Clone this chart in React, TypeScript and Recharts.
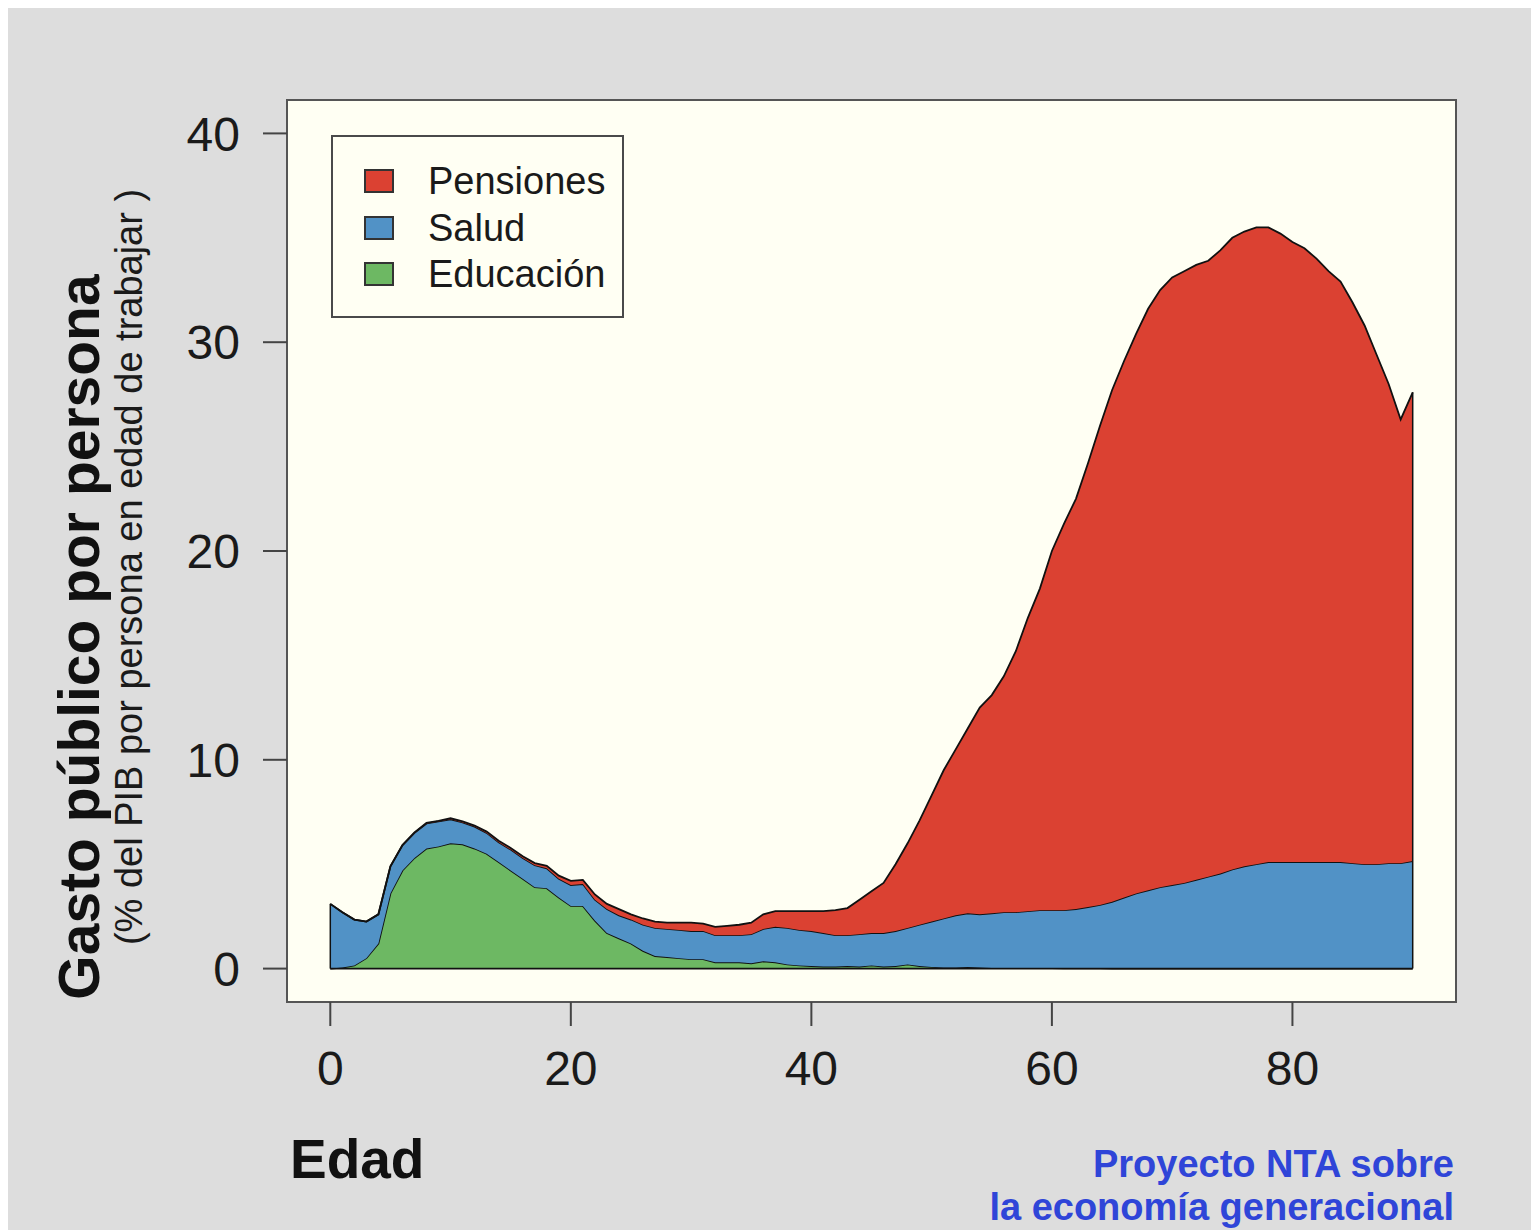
import React from "react";
import {
  AreaChart,
  Area,
  XAxis,
  YAxis,
  CartesianGrid,
  ReferenceArea,
  ReferenceLine,
  Legend,
} from "recharts";

// ---------- data ----------
const ages = [
  0, 1, 2, 3, 4, 5, 6, 7, 8, 9, 10, 11, 12, 13, 14, 15, 16, 17, 18, 19, 20,
  21, 22, 23, 24, 25, 26, 27, 28, 29, 30, 31, 32, 33, 34, 35, 36, 37, 38, 39,
  40, 41, 42, 43, 44, 45, 46, 47, 48, 49, 50, 51, 52, 53, 54, 55, 56, 57, 58,
  59, 60, 61, 62, 63, 64, 65, 66, 67, 68, 69, 70, 71, 72, 73, 74, 75, 76, 77,
  78, 79, 80, 81, 82, 83, 84, 85, 86, 87, 88, 89, 90,
];

const educacion = [
  0, 0.05, 0.15, 0.5, 1.2, 3.6, 4.7, 5.3, 5.75, 5.85, 6.0, 5.95, 5.75, 5.5,
  5.1, 4.7, 4.3, 3.9, 3.85, 3.4, 3.0, 3.0, 2.3, 1.7, 1.45, 1.2, 0.85, 0.6,
  0.55, 0.5, 0.45, 0.45, 0.3, 0.3, 0.3, 0.25, 0.35, 0.3, 0.2, 0.15, 0.12, 0.1,
  0.1, 0.12, 0.1, 0.15, 0.1, 0.12, 0.2, 0.12, 0.08, 0.05, 0.05, 0.08, 0.05,
  0.03, 0.02, 0.02, 0.02, 0.02, 0.02, 0.01, 0.01, 0.01, 0.01, 0, 0, 0, 0, 0,
  0, 0, 0, 0, 0, 0, 0, 0, 0, 0, 0, 0, 0, 0, 0, 0, 0, 0, 0, 0, 0,
];

const salud = [
  3.1, 2.65, 2.2, 1.75, 1.4, 1.3, 1.2, 1.2, 1.2, 1.2, 1.15, 1.05, 1.05, 1.0,
  0.95, 1.0, 1.0, 1.05, 0.95, 0.9, 1.0, 1.05, 1.0, 1.15, 1.1, 1.15, 1.25, 1.35,
  1.35, 1.35, 1.35, 1.35, 1.3, 1.3, 1.3, 1.4, 1.55, 1.7, 1.75, 1.7, 1.68, 1.6,
  1.5, 1.48, 1.55, 1.55, 1.6, 1.68, 1.75, 1.98, 2.17, 2.35, 2.5, 2.57, 2.55,
  2.62, 2.68, 2.68, 2.73, 2.78, 2.78, 2.79, 2.84, 2.94, 3.04, 3.2, 3.4, 3.6,
  3.75, 3.9, 4.0, 4.1, 4.25, 4.4, 4.55, 4.75, 4.9, 5.0, 5.1, 5.1, 5.1, 5.1,
  5.1, 5.1, 5.1, 5.05, 5.0, 5.0, 5.05, 5.05, 5.15,
];

const pensiones = [
  0, 0, 0, 0, 0, 0, 0.02, 0.02, 0.03, 0.03, 0.05, 0.05, 0.05, 0.06, 0.07,
  0.08, 0.08, 0.1, 0.12, 0.15, 0.2, 0.2, 0.25, 0.25, 0.3, 0.25, 0.3, 0.3, 0.3,
  0.35, 0.4, 0.35, 0.4, 0.45, 0.5, 0.55, 0.7, 0.75, 0.8, 0.9, 0.95, 1.05, 1.2,
  1.3, 1.65, 2.0, 2.4, 3.2, 4.05, 5.0, 6.05, 7.1, 7.95, 8.85, 9.9, 10.45, 11.3,
  12.5, 14.05, 15.4, 17.2, 18.5, 19.65, 21.25, 22.95, 24.5, 25.7, 26.8, 27.85,
  28.6, 29.1, 29.3, 29.45, 29.5, 29.85, 30.25, 30.4, 30.5, 30.4, 30.1, 29.7,
  29.4, 28.9, 28.3, 27.8, 26.85, 25.8, 24.4, 22.95, 21.25, 22.45,
];

const xTicks = [0, 20, 40, 60, 80];
const yTicks = [0, 10, 20, 30, 40];
const xDomain = [-3.6, 93.6];
const yDomain = [-1.6, 41.6];

const seriesInfo = [
  { key: "pensiones", name: "Pensiones", color: "#db4132" },
  { key: "salud", name: "Salud", color: "#5192c6" },
  { key: "educacion", name: "Educación", color: "#6db863" },
];

const data = ages.map((age, i) => ({
  age,
  educacion: educacion[i],
  salud: salud[i],
  pensiones: pensiones[i],
}));

const FONT = '"Liberation Sans", Arial, Helvetica, sans-serif';
const colorOf = (k: string) => seriesInfo.find((s) => s.key === k)!.color;

const firstIdx = 0;
const lastIdx = ages.length - 1;
const totalAt = (i: number) => educacion[i] + salud[i] + pensiones[i];

const XTick = (props: any) => {
  const { x, y, payload } = props;
  return (
    <text
      x={x}
      y={y + 57}
      textAnchor="middle"
      fontSize={48}
      fontFamily={FONT}
      fill="#1a1a1a"
    >
      {payload.value}
    </text>
  );
};

const YTick = (props: any) => {
  const { x, y, payload } = props;
  return (
    <text
      x={x - 21}
      y={y}
      dy="0.36em"
      textAnchor="end"
      fontSize={48}
      fontFamily={FONT}
      fill="#1a1a1a"
    >
      {payload.value}
    </text>
  );
};

const LegendBox = () => (
  <div
    style={{
      position: "relative",
      width: 293,
      height: 183,
      boxSizing: "border-box",
      border: "2px solid #4a4a4a",
      background: "#fffff3",
      fontFamily: FONT,
    }}
  >
    {seriesInfo.map((s, i) => (
      <div
        key={s.key}
        style={{
          position: "absolute",
          left: 0,
          top: 46 + i * 46.5 - 23 - 2,
          height: 46,
          width: "100%",
        }}
      >
        <div
          style={{
            position: "absolute",
            left: 31,
            top: 11,
            width: 30,
            height: 24,
            boxSizing: "border-box",
            background: s.color,
            border: "2px solid #333",
          }}
        />
        <div
          style={{
            position: "absolute",
            left: 95,
            top: 0,
            lineHeight: "46px",
            fontSize: 38,
            color: "#1a1a1a",
            whiteSpace: "nowrap",
          }}
        >
          {s.name}
        </div>
      </div>
    ))}
  </div>
);

export default function App() {
  return (
    <div
      style={{
        position: "relative",
        width: 1531,
        height: 1222,
        background: "#dddddd",
        overflow: "hidden",
        fontFamily: FONT,
      }}
    >
      <AreaChart
        width={1531}
        height={1222}
        data={data}
        margin={{ top: 92, right: 83, bottom: 168, left: 219 }}
      >
        <CartesianGrid
          fill="#fffff3"
          stroke="none"
          horizontal={false}
          vertical={false}
        />
        <XAxis
          type="number"
          dataKey="age"
          domain={xDomain}
          allowDataOverflow
          ticks={xTicks}
          height={60}
          axisLine={false}
          tickSize={24}
          tickLine={{ stroke: "#444", strokeWidth: 2 }}
          tick={<XTick />}
          interval={0}
        />
        <YAxis
          type="number"
          domain={yDomain}
          allowDataOverflow
          ticks={yTicks}
          width={60}
          axisLine={false}
          tickSize={24}
          tickLine={{ stroke: "#444", strokeWidth: 2 }}
          tick={<YTick />}
          interval={0}
        />
        <Area
          type="linear"
          dataKey="educacion"
          stackId="a"
          fill={colorOf("educacion")}
          fillOpacity={1}
          stroke="#111"
          strokeWidth={1.8}
          isAnimationActive={false}
          dot={false}
          activeDot={false}
        />
        <Area
          type="linear"
          dataKey="salud"
          stackId="a"
          fill={colorOf("salud")}
          fillOpacity={1}
          stroke="#111"
          strokeWidth={1.8}
          isAnimationActive={false}
          dot={false}
          activeDot={false}
        />
        <Area
          type="linear"
          dataKey="pensiones"
          stackId="a"
          fill={colorOf("pensiones")}
          fillOpacity={1}
          stroke="#111"
          strokeWidth={1.8}
          isAnimationActive={false}
          dot={false}
          activeDot={false}
        />
        <ReferenceLine
          segment={[
            { x: ages[firstIdx], y: 0 },
            { x: ages[lastIdx], y: 0 },
          ]}
          stroke="#111"
          strokeWidth={1.8}
        />
        <ReferenceLine
          segment={[
            { x: ages[firstIdx], y: 0 },
            { x: ages[firstIdx], y: totalAt(firstIdx) },
          ]}
          stroke="#111"
          strokeWidth={1.5}
        />
        <ReferenceLine
          segment={[
            { x: ages[lastIdx], y: 0 },
            { x: ages[lastIdx], y: totalAt(lastIdx) },
          ]}
          stroke="#111"
          strokeWidth={1.5}
        />
        <ReferenceArea
          x1={xDomain[0]}
          x2={xDomain[1]}
          y1={yDomain[0]}
          y2={yDomain[1]}
          fill="none"
          fillOpacity={0}
          stroke="#555"
          strokeWidth={2}
          ifOverflow="visible"
        />
        <Legend
          layout="vertical"
          align="center"
          verticalAlign="middle"
          content={() => <LegendBox />}
          wrapperStyle={{
            position: "absolute",
            left: 323,
            top: 127,
            width: 293,
            height: 183,
            margin: 0,
          }}
        />
      </AreaChart>
      <svg
        width={1531}
        height={1222}
        style={{ position: "absolute", left: 0, top: 0, pointerEvents: "none" }}
      >
        <text
          transform="translate(91,629) rotate(-90)"
          textAnchor="middle"
          fontSize={57}
          fontWeight="bold"
          fontFamily={FONT}
          fill="#111"
        >
          Gasto público por persona
        </text>
        <text
          transform="translate(134,559) rotate(-90)"
          textAnchor="middle"
          fontSize={38}
          fontFamily={FONT}
          fill="#1a1a1a"
        >
          (% del PIB por persona en edad de trabajar )
        </text>
        <text
          x={282}
          y={1170}
          fontSize={55}
          fontWeight="bold"
          fontFamily={FONT}
          fill="#111"
        >
          Edad
        </text>
        <text
          x={1446}
          y={1169}
          textAnchor="end"
          fontSize={38}
          fontWeight="bold"
          fontFamily={FONT}
          fill="#2f45d8"
        >
          Proyecto NTA sobre
        </text>
        <text
          x={1446}
          y={1212}
          textAnchor="end"
          fontSize={38}
          fontWeight="bold"
          fontFamily={FONT}
          fill="#2f45d8"
        >
          la economía generacional
        </text>
      </svg>
    </div>
  );
}
